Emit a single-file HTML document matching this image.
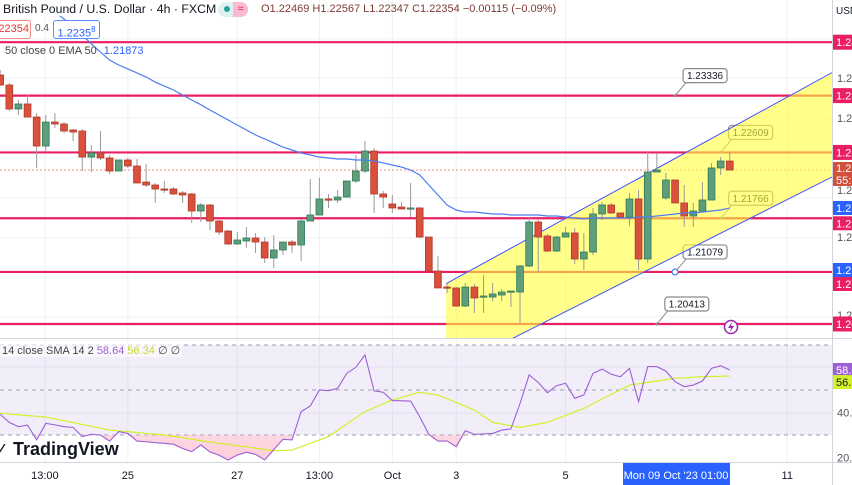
<!DOCTYPE html>
<html><head><meta charset="utf-8">
<style>
html,body{margin:0;padding:0;background:#fff;}
body{width:852px;height:485px;overflow:hidden;position:relative;font-family:"Liberation Sans",sans-serif;}
svg{position:absolute;left:0;top:0;}
text{font-family:"Liberation Sans",sans-serif;}
</style></head>
<body>
<svg id="chart" width="852" height="485" viewBox="0 0 852 485" xmlns="http://www.w3.org/2000/svg">
<defs>
<clipPath id="paneClip"><rect x="0" y="0" width="832" height="338"/></clipPath>
<clipPath id="rsiClip"><rect x="0" y="339" width="832" height="123"/></clipPath>
<clipPath id="oversoldClip"><rect x="0" y="435" width="832" height="27"/></clipPath>
<clipPath id="axisClip"><rect x="832" y="0" width="20" height="462"/></clipPath>
<linearGradient id="pinkGrad" x1="0" y1="0" x2="0" y2="1"><stop offset="0" stop-color="#ffcdd2" stop-opacity="0.3"/><stop offset="1" stop-color="#f8a5bd" stop-opacity="0.55"/></linearGradient>
</defs>
<g id="grid"></g>
<g id="price" clip-path="url(#paneClip)"></g>
<g id="rsi"></g>
<g id="axis"></g>
</svg>
<script>
// ---- data ----
const opens  = [1.2360,1.23472,1.23165,1.23229,1.23062,1.22691,1.22998,1.22973,1.22896,1.22883,1.2255,1.22602,1.22538,1.22371,1.22512,1.22435,1.2223,1.22192,1.22141,1.22141,1.2209,1.22077,1.21859,1.21936,1.21731,1.21603,1.21437,1.21475,1.21514,1.21462,1.21258,1.2136,1.21462,1.21424,1.21731,1.21808,1.22013,1.22,1.22038,1.22243,1.22371,1.22627,1.22077,1.21949,1.2191,1.21885,1.21898,1.21526,1.21091,1.20886,1.20874,1.20643,1.20886,1.20758,1.20758,1.20784,1.20822,1.20822,1.21155,1.21718,1.21539,1.21347,1.21526,1.21578,1.21245,1.21334,1.21821,1.21936,1.21834,1.21782,1.22013,1.21245,1.22358,1.22026,1.22256,1.21962,1.21795,1.21859,1.22,1.2241,1.22499];
const highs  = [1.23664,1.23498,1.2328,1.23344,1.23114,1.23088,1.23114,1.22998,1.22909,1.22909,1.22704,1.22883,1.22576,1.22512,1.22538,1.22525,1.22461,1.22218,1.22243,1.22166,1.22115,1.2209,1.21962,1.21949,1.21744,1.21616,1.2159,1.21654,1.21578,1.21526,1.21552,1.21462,1.21488,1.21757,1.22269,1.22282,1.22077,1.22128,1.22243,1.22576,1.22755,1.22666,1.22115,1.22064,1.21974,1.22218,1.2191,1.21526,1.21283,1.20938,1.20886,1.20938,1.20925,1.2104,1.20938,1.2086,1.20835,1.21168,1.21782,1.21744,1.21565,1.21539,1.21654,1.21642,1.21578,1.21898,1.21974,1.21962,1.21834,1.2209,1.22128,1.22614,1.22602,1.22346,1.22256,1.22192,1.21962,1.2223,1.22474,1.2255,1.22614];
const lows   = [1.23459,1.2314,1.23088,1.23062,1.2241,1.22614,1.22922,1.22858,1.22755,1.22371,1.22358,1.22512,1.22333,1.22371,1.2241,1.22218,1.22166,1.21962,1.2209,1.22064,1.21962,1.21706,1.21718,1.21616,1.21552,1.21424,1.21424,1.21386,1.21322,1.21194,1.2113,1.21296,1.21322,1.21219,1.21731,1.21808,1.21898,1.21962,1.22038,1.22218,1.22346,1.21834,1.21898,1.21834,1.21885,1.21782,1.21514,1.21091,1.20874,1.2081,1.2063,1.2063,1.20554,1.20554,1.20707,1.20707,1.2063,1.20426,1.21142,1.21078,1.21334,1.21334,1.21526,1.21181,1.21104,1.21296,1.21744,1.21821,1.21782,1.21667,1.21104,1.21194,1.22358,1.22,1.21962,1.21654,1.21654,1.21859,1.22,1.2232,1.22384];
const closes = [1.23472,1.23165,1.23229,1.23062,1.22691,1.22998,1.22973,1.22883,1.2287,1.2255,1.22602,1.22538,1.22371,1.22512,1.22435,1.22218,1.22192,1.22141,1.22128,1.22077,1.22064,1.21859,1.21936,1.21731,1.2159,1.21437,1.21488,1.21514,1.21462,1.21258,1.2136,1.21462,1.21424,1.21731,1.21808,1.22013,1.22,1.22038,1.22243,1.22371,1.22627,1.22077,1.22038,1.21898,1.21885,1.21898,1.21526,1.21091,1.20874,1.20874,1.20643,1.20886,1.20746,1.20771,1.20797,1.20822,1.20835,1.21155,1.21718,1.21526,1.21347,1.21526,1.21578,1.21245,1.21334,1.21821,1.21936,1.21834,1.21782,1.22013,1.21245,1.22358,1.22384,1.22256,1.21962,1.21795,1.21859,1.22,1.2241,1.22499,1.22384];
const ema50  = [null,null,null,null,null,null,1.24406,1.24317,1.24214,1.24112,1.23997,1.23894,1.2379,1.23728,1.23677,1.23626,1.23574,1.2351,1.23459,1.23408,1.23344,1.2328,1.2322,1.23152,1.23088,1.23024,1.2296,1.22896,1.22832,1.22781,1.2273,1.22678,1.2264,1.22602,1.22576,1.2255,1.22538,1.22525,1.22525,1.22512,1.22512,1.22499,1.22474,1.22448,1.22422,1.22384,1.2232,1.22192,1.22064,1.21936,1.21872,1.21846,1.21846,1.21834,1.21821,1.21821,1.21808,1.21808,1.21808,1.21808,1.21795,1.21795,1.21782,1.2177,1.21757,1.2177,1.2177,1.2177,1.2177,1.2177,1.21782,1.21782,1.21795,1.21808,1.21821,1.21834,1.21834,1.21846,1.21859,1.21872,1.21898];
const rsiVals = [39.2,35.6,33.7,34.4,27.8,35.2,34.5,33.7,33.4,29.3,30.3,30,27.3,31.5,30.7,27.3,27,26.6,26.3,25.9,24,22.6,25.6,22.5,21,18.9,21.1,22.3,21.4,18.9,23.5,28.1,27.8,40.4,42.9,50,49.7,50.7,57.4,60.1,65.6,49.6,49,45.3,45.2,45.1,38.1,30.3,27.3,27.3,24.8,31.9,30.3,30.5,30.7,32.2,32.7,44,56.7,53.4,48.8,51.9,53,46.3,47.8,57.4,59.3,57,55.9,59.6,44.8,60.4,60.4,58.4,53.7,51.5,52.2,54,59.6,60.8,58.9];
const rsiSma = [39.6,39.3,39,38.6,38.3,38,37.2,36.3,35.5,34.7,33.9,33,32.2,31.8,31.5,31.1,30.7,30.4,30,29.4,28.8,28.1,27.5,26.9,26.3,25.8,25.2,24.7,24.1,23.6,23,23.1,23.3,24.8,26.3,27.8,29.3,32.1,34.9,37.6,40.4,42.1,43.9,45.6,46.7,47.9,49,48.4,47.8,46.1,44.5,42.8,41.1,38.4,35.6,34.9,34.1,33.4,34.1,34.9,35.6,37.2,38.7,40.3,41.8,43.9,46,48.1,50.1,52.2,52.8,53.4,54,54.6,55.2,55.4,55.7,55.9,56,56.1,56.2];
const levelPrices = [1.2402,1.23336,1.22609,1.21766,1.21079,1.20413];
const calloutLabels = ["1.23336","1.22609","1.21766","1.21079","1.20413"];
const calloutPrices = [1.23336,1.22609,1.21766,1.21079,1.20413];
const calloutBars = [74,79,79,74,72];
const channelUpper = [1.20929,1.2363];
const channelLower = [1.19799,1.22294];
const xTickLabels = ["13:00","25","27","13:00","Oct","3","5","11"];
const xTickBars = [4.9,14,26,35,43,50,62,86.3];
const rsiTicks = [40,20];

// ---- scales ----
const NS="http://www.w3.org/2000/svg";
const yP = p => (1.2456 - p) / 0.000128;
const xB = i => 0.18 + 9.12 * i;
const yR = v => 390 - (v - 50) * 2.25;
function mk(tag, attrs, parent){const e=document.createElementNS(NS,tag);for(const k in attrs)e.setAttribute(k,attrs[k]);parent.appendChild(e);return e;}
const grid=document.getElementById('grid'), price=document.getElementById('price'), rsi=document.getElementById('rsi'), axis=document.getElementById('axis');

[39,78,118,158,198,238,278,317,367,413].forEach(y=>{const l=mk('line',{x1:0,x2:832,y1:y,y2:y,stroke:'#eef0f3','stroke-width':1},grid);

});
xTickBars.forEach(b=>{const l=mk('line',{x1:xB(b),x2:xB(b),y1:0,y2:462,stroke:'#eef0f3','stroke-width':1},grid);

});

const cur=mk('line',{x1:0,x2:832,y1:yP(closes[closes.length-1]),y2:yP(closes[closes.length-1]),stroke:'#f28b82','stroke-width':1,'stroke-dasharray':'2 2'},price);



levelPrices.forEach(p=>{const l=mk('line',{x1:0,x2:832,y1:yP(p),y2:yP(p),stroke:'#e91e63','stroke-width':2.2},price);

});

calloutLabels.forEach((t,i)=>{
  const tx=xB(calloutBars[i]), ty=yP(calloutPrices[i]);
  const g=mk('g',{},price);
  
  
  const bx=tx+8, by=ty-27;
  mk('path',{d:`M${tx},${ty} L${bx+3},${by+14} L${bx+12},${by+14}`,fill:'#fff',stroke:'#8a8a8a','stroke-width':1},g);
  mk('rect',{x:bx,y:by,width:44,height:14,rx:3,fill:'#fff',stroke:'#8a8a8a','stroke-width':1.2},g);
  const tt=mk('text',{x:bx+22,y:by+10.5,'font-size':10,'text-anchor':'middle',fill:'#131722'},g);tt.textContent=t;
  mk('circle',{cx:tx,cy:ty,r:i==3?3:1.5,fill:i==3?'#fff':'#8a8a8a',stroke:i==3?'#2962ff':'none','stroke-width':1},g);
});

const b0=48.9,b1=91.2;
const ch=mk('polygon',{points:`${xB(b0)},${yP(channelUpper[0])} ${xB(b1)},${yP(channelUpper[1])} ${xB(b1)},${yP(channelLower[1])} ${xB(b0)},${yP(channelLower[0])}`,fill:'#ffff3b','fill-opacity':0.6},price);


const cu=mk('line',{x1:xB(b0),y1:yP(channelUpper[0]),x2:xB(b1),y2:yP(channelUpper[1]),stroke:'#3f51ff','stroke-width':1},price);


const cl=mk('line',{x1:xB(b0),y1:yP(channelLower[0]),x2:xB(b1),y2:yP(channelLower[1]),stroke:'#3f51ff','stroke-width':1},price);



opens.forEach((o,i)=>{
  const c=closes[i], up=c>=o, x=xB(i);
  const g=mk('g',{},price);
  
  
  mk('line',{x1:x,x2:x,y1:yP(highs[i]),y2:yP(lows[i]),stroke:'#9a9a9a','stroke-width':1},g);
  const top=yP(Math.max(o,c)), h=Math.max(1.2,Math.abs(yP(o)-yP(c)));
  mk('rect',{x:x-3.4,y:top,width:6.8,height:h,fill:up?'#5f9e7c':'#d9503c',stroke:up?'#2f7a55':'#b23a2a','stroke-width':0.8},g);
});

let d='';ema50.forEach((v,i)=>{if(v==null)return;d+=(d?'L':'M')+xB(i)+','+yP(v);});
d='M50,8 L'+d.slice(1);
const em=mk('path',{d:d,fill:'none',stroke:'#4c7cf3','stroke-width':1.2},price);



const lg=mk('g',{},price);


mk('circle',{cx:731,cy:327,r:6.5,fill:'#fff',stroke:'#9c27b0','stroke-width':1.5},lg);
mk('path',{d:'M732,322 L728,328 L731,328 L730,332 L734,326 L731,326 Z',fill:'#9c27b0'},lg);

// RSI pane
mk('line',{x1:0,x2:852,y1:338.5,y2:338.5,stroke:'#d1d4dc','stroke-width':1},rsi);
const band=mk('rect',{x:0,y:yR(70),width:832,height:yR(30)-yR(70),fill:'#7e57c2','fill-opacity':0.1},rsi);


[70,50,30].forEach(v=>{const l=mk('line',{x1:0,x2:832,y1:yR(v),y2:yR(v),stroke:'#a0a3ab','stroke-width':1,'stroke-dasharray':'4 4'},rsi);

});
let rp='';rsiVals.forEach((v,i)=>{rp+=(rp?'L':'M')+xB(i)+','+yR(v);});
const os=mk('path',{d:rp+`L${xB(rsiVals.length-1)},${yR(30)}L0,${yR(30)}Z`,fill:'url(#pinkGrad)','clip-path':'url(#oversoldClip)'},rsi);


let sp='';rsiSma.forEach((v,i)=>{sp+=(sp?'L':'M')+xB(i)+','+yR(v);});
const sl=mk('path',{d:sp,fill:'none',stroke:'#d4f02a','stroke-width':1.2},rsi);


const rl=mk('path',{d:rp,fill:'none',stroke:'#9c5fd6','stroke-width':1.1},rsi);



// axes
mk('line',{x1:832.5,x2:832.5,y1:0,y2:485,stroke:'#d1d4dc','stroke-width':1},axis);
mk('line',{x1:0,x2:852,y1:462.5,y2:462.5,stroke:'#d1d4dc','stroke-width':1},axis);
xTickLabels.forEach((t,i)=>{const e=mk('text',{x:xB(xTickBars[i]),y:479,'font-size':11,'text-anchor':'middle',fill:'#131722'},axis);e.textContent=t;

});
const hb=mk('g',{},axis);


mk('rect',{x:623,y:463,width:107,height:22,fill:'#2962ff'},hb);
const ht=mk('text',{x:676,y:479,'font-size':11,'text-anchor':'middle',fill:'#fff'},hb);ht.textContent="Mon 09 Oct '23   01:00";

const ax=mk('g',{'clip-path':'url(#axisClip)'},axis);
[[78,'1.23800'],[118,'1.23200'],[190,'1.22000'],[237,'1.21500'],[315,'1.20500']].forEach(a=>{const e=mk('text',{x:837,y:a[0]+4,'font-size':11,fill:'#555'},ax);e.textContent=a[1];

});
rsiTicks.forEach(v=>{const e=mk('text',{x:837,y:yR(v)+4,'font-size':11,fill:'#555'},ax);e.textContent=v.toFixed(2);

});
function tag(y,h,col,txt,txt2,tc){const g=mk('g',{},ax);
 
 
 mk('rect',{x:833,y:y-h/2,width:20,height:h,fill:col},g);
 const t=mk('text',{x:836,y:txt2?y-2:y+4,'font-size':11,fill:tc||'#fff'},g);t.textContent=txt;
 if(txt2){const t2=mk('text',{x:836,y:y+10,'font-size':11,fill:tc||'#fff'},g);t2.textContent=txt2;}}
tag(yP(levelPrices[0]),15,'#e91e63','1.24020');
tag(yP(levelPrices[1]),15,'#e91e63','1.23336');
tag(yP(levelPrices[2]),15,'#e91e63','1.22609');
tag(yP(closes[closes.length-1])+4,24,'#d24f3c','1.22354','55:12');
tag(yP(ema50[ema50.length-1]),14,'#2962ff','1.21873');
tag(yP(levelPrices[3])+5,14,'#e91e63','1.21766');
tag(270,14,'#2962ff','1.21100');
tag(284,14,'#e91e63','1.21079');
tag(yP(levelPrices[5]),15,'#e91e63','1.20413');
tag(yR(rsiVals[rsiVals.length-1]),14,'#9c5fd6','58.64');
tag(yR(rsiSma[rsiSma.length-1])+6,14,'#d4f02a','56.34','', '#131722');
const usd=mk('text',{x:836,y:14,'font-size':10,fill:'#131722'},ax);usd.textContent='USD';


</script>

<div style="position:absolute;left:0;top:0;width:832px;height:60px;font-size:13px;color:#131722;">
  <div style="position:absolute;left:1px;top:2px;white-space:nowrap;background:rgba(255,255,255,.85);padding:0 2px;font-size:12.3px;">British Pound / U.S. Dollar · 4h · FXCM</div>
  <div style="position:absolute;left:218px;top:2px;width:30px;height:15px;border-radius:8px;background:#e0f2ef;overflow:hidden;">
    <span style="position:absolute;left:6px;top:4px;width:6px;height:6px;border-radius:3px;background:#26a69a;"></span>
    <span style="position:absolute;left:15px;top:0;width:15px;height:15px;background:#f8bbd0;color:#e91e63;font-size:11px;line-height:15px;text-align:center;">≈</span>
  </div>
  <div style="position:absolute;left:261px;top:3px;font-size:11px;color:#7f3b36;white-space:nowrap;">O1.22469 H1.22567 L1.22347 C1.22354 −0.00115 (−0.09%)</div>
  <div style="position:absolute;left:-6px;top:20px;width:34px;height:17px;border:1px solid #f28b82;border-radius:3px;background:#fff;color:#e53935;font-size:11px;line-height:17px;text-align:right;padding-right:1px;">.22354</div>
  <div style="position:absolute;left:35px;top:23px;font-size:10px;color:#555;">0.4</div>
  <div style="position:absolute;left:53px;top:20px;width:45px;height:17px;border:1px solid #5b8cff;border-radius:3px;background:#fff;color:#2962ff;font-size:11px;line-height:17px;text-align:center;">1.2235<sup style="font-size:8px">8</sup></div>
  <div style="position:absolute;left:5px;top:45px;font-size:11px;color:#444;white-space:nowrap;">50 close 0 EMA 50 <span style="color:#2962ff;margin-left:4px;">1.21873</span></div>
</div>
<div style="position:absolute;left:0;top:344px;font-size:11px;color:#444;white-space:nowrap;background:rgba(255,255,255,.6);padding:0 2px;">14 close SMA 14 2 <span style="color:#9c5fd6">58.64</span> <span style="color:#c6d82a">56.34</span> ∅ ∅</div>
<div style="position:absolute;left:0;top:439px;white-space:nowrap;font-size:18px;font-weight:bold;color:#131722;"><span style="display:inline-block;width:8px;font-size:16px;">⁄</span> TradingView</div>
</body></html>
